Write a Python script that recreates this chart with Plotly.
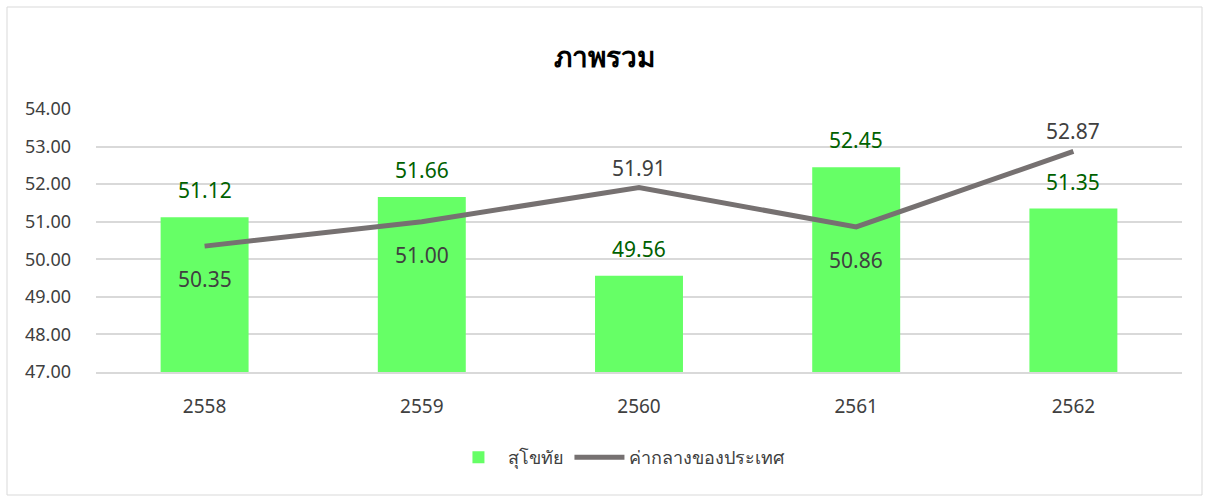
import plotly.graph_objects as go

categories = ["2558", "2559", "2560", "2561", "2562"]
sukhothai = [51.12, 51.66, 49.56, 52.45, 51.35]
national = [50.35, 51.00, 51.91, 50.86, 52.87]
national_label_pos = ["below", "below", "above", "below", "above"]

title_text = "ภาพรวม"
bar_name = "สุโขทัย"
line_name = "ค่ากลางของประเทศ"

FONT = "Noto Sans, Tahoma, sans-serif"

fig = go.Figure()
fig.add_trace(go.Bar(
    x=categories, y=sukhothai, name=bar_name,
    marker=dict(color="#66FF66", line=dict(width=0)),
    width=0.405,
))
fig.add_trace(go.Scatter(
    x=categories, y=national, name=line_name, mode="lines",
    line=dict(color="#767171", width=5),
))

annotations = []
for i, v in enumerate(sukhothai):
    annotations.append(dict(
        x=i, y=v, xref="x", yref="y", text=f"{v:.2f}", showarrow=False,
        yshift=27, font=dict(family=FONT, size=21, color="#006100"),
    ))
for i, (v, p) in enumerate(zip(national, national_label_pos)):
    annotations.append(dict(
        x=i, y=v, xref="x", yref="y", text=f"{v:.2f}", showarrow=False,
        yshift=(-33 if p == "below" else 20),
        font=dict(family=FONT, size=21, color="#404040"),
    ))

fig.update_layout(
    width=1209, height=497,
    margin=dict(l=96, r=27, t=109, b=125),
    paper_bgcolor="white", plot_bgcolor="white",
    title=dict(text=f"<b>{title_text}</b>", x=0.5, xanchor="center",
               y=1 - 57 / 497, yanchor="middle",
               font=dict(family=FONT, size=28, color="#000000")),
    font=dict(family=FONT, size=18, color="#404040"),
    barmode="overlay",
    showlegend=True,
    legend=dict(orientation="h", x=0.482, xanchor="center", y=-0.325, yanchor="middle",
                font=dict(family=FONT, size=18, color="#404040"),
                itemwidth=50),
    annotations=annotations,
    shapes=[dict(type="rect", xref="paper", yref="paper",
                 x0=(7 - 96) / 1086, x1=(1202 - 96) / 1086,
                 y0=(372 - 495) / 263, y1=(372 - 7) / 263,
                 line=dict(color="#d9d9d9", width=1), layer="below")],
)
fig.update_yaxes(range=[47, 54], dtick=1, tickformat=".2f",
                 showgrid=True, gridcolor="#d9d9d9", gridwidth=2,
                 zeroline=False, showline=False, ticks="",
                 ticklabelstandoff=24,
                 tickfont=dict(family=FONT, size=18, color="#404040"))
fig.update_xaxes(type="category", range=[-0.5, 4.5], showgrid=False, showline=True,
                 linecolor="#d9d9d9", linewidth=2,
                 ticks="", tickfont=dict(family=FONT, size=19, color="#404040"),
                 ticklabelstandoff=16)

fig.write_html("out.html", config={"displayModeBar": False},
               post_script="document.body.style.margin='0';document.body.style.overflow='hidden';")
